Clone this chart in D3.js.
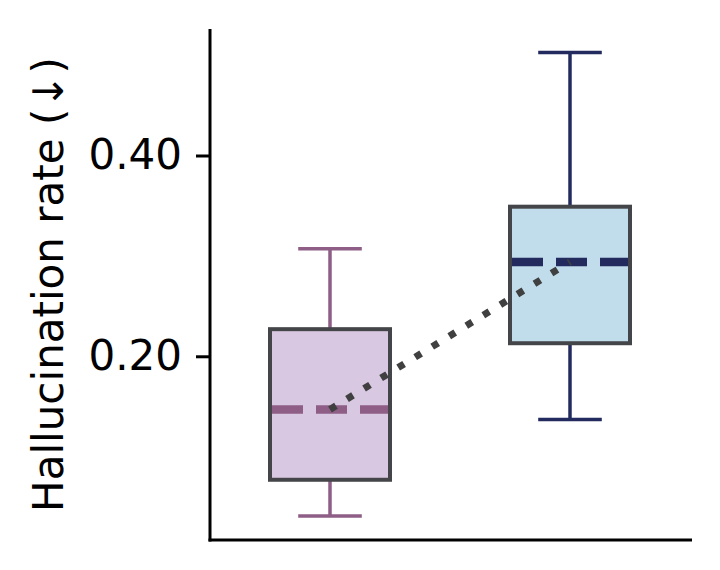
<!DOCTYPE html>
<html>
<head>
<meta charset="utf-8">
<script src="https://cdn.jsdelivr.net/npm/d3@7"></script>
<style>
  body { margin: 0; background: #ffffff; }
  svg { display: block; font-family: "DejaVu Sans", sans-serif; }
</style>
</head>
<body>
<div id="chart"></div>
<script>
// Données
const categories = ["Baseline", "Ours"];
const whiskerLow = [0.041, 0.137];
const q1 = [0.077, 0.213];
const medians = [0.147, 0.294];
const q3 = [0.227, 0.349];
const whiskerHigh = [0.307, 0.5025];
const tickValues = [0.20, 0.40];
const fillColors = ["#d9c8e1", "#c1ddeb"];
const lineColors = ["#8e5e87", "#232b5e"];
const edgeColor = "#444548";

const width = 720, height = 570;
const svg = d3.select('#chart').append('svg')
  .attr('width', width)
  .attr('height', height);

// Echelles
const x = d3.scaleBand()
  .domain(categories)
  .range([210, 690])
  .paddingInner(0.5)
  .paddingOuter(0.25);

const y = d3.scaleLinear()
  .domain([0.017, 0.526])
  .range([540, 29]);

const boxes = categories.map((c, i) => ({
  cat: c, lo: whiskerLow[i], q1: q1[i], med: medians[i], q3: q3[i], hi: whiskerHigh[i],
  fill: fillColors[i], line: lineColors[i]
}));

const bw = x.bandwidth();
const capW = bw * 0.53;

const g = svg.append('g');

// Moustaches
boxes.forEach(d => {
  const cx = x(d.cat) + bw / 2;
  g.append('line')
    .attr('x1', cx).attr('x2', cx)
    .attr('y1', y(d.q3)).attr('y2', y(d.hi))
    .attr('stroke', d.line).attr('stroke-width', 3.5);
  g.append('line')
    .attr('x1', cx).attr('x2', cx)
    .attr('y1', y(d.q1)).attr('y2', y(d.lo))
    .attr('stroke', d.line).attr('stroke-width', 3.5);
  [d.lo, d.hi].forEach(v => {
    g.append('line')
      .attr('x1', cx - capW / 2).attr('x2', cx + capW / 2)
      .attr('y1', y(v)).attr('y2', y(v))
      .attr('stroke', d.line).attr('stroke-width', 3.5);
  });
});

// Boîtes
g.selectAll('rect.box')
  .data(boxes)
  .join('rect')
  .attr('class', 'box')
  .attr('x', d => x(d.cat))
  .attr('y', d => y(d.q3))
  .attr('width', bw)
  .attr('height', d => y(d.q1) - y(d.q3))
  .attr('fill', d => d.fill)
  .attr('stroke', edgeColor)
  .attr('stroke-width', 4);

// Médianes en tirets
g.selectAll('line.median')
  .data(boxes)
  .join('line')
  .attr('class', 'median')
  .attr('x1', d => x(d.cat) + 2)
  .attr('x2', d => x(d.cat) + bw - 2)
  .attr('y1', d => y(d.med))
  .attr('y2', d => y(d.med))
  .attr('stroke', d => d.line)
  .attr('stroke-width', 8.5)
  .attr('stroke-dasharray', '31,13');

// Ligne pointillée reliant les médianes
const medLine = d3.line()
  .x(d => x(d.cat) + bw / 2)
  .y(d => y(d.med));

g.append('path')
  .datum(boxes)
  .attr('d', medLine)
  .attr('fill', 'none')
  .attr('stroke', '#404040')
  .attr('stroke-width', 7)
  .attr('stroke-dasharray', '7,13');

// Axe Y
const yAxis = d3.axisLeft(y)
  .tickValues(tickValues)
  .tickFormat(d3.format('.2f'))
  .tickSize(14)
  .tickPadding(14);

const ax = svg.append('g')
  .attr('transform', 'translate(210,0)')
  .call(yAxis);
ax.select('.domain').remove();
ax.selectAll('.tick line').attr('stroke', '#000').attr('stroke-width', 3);
ax.selectAll('.tick text')
  .attr('fill', '#000')
  .style('font-size', '42px')
  .style('font-family', '"DejaVu Sans", sans-serif');

// Axes (spines)
svg.append('line')
  .attr('x1', 210).attr('x2', 210)
  .attr('y1', 29).attr('y2', 541.5)
  .attr('stroke', '#000').attr('stroke-width', 3);
svg.append('line')
  .attr('x1', 208.5).attr('x2', 692)
  .attr('y1', 540).attr('y2', 540)
  .attr('stroke', '#000').attr('stroke-width', 3);

// Titre de l'axe Y
svg.append('text')
  .attr('transform', `translate(63, ${(29 + 540) / 2}) rotate(-90)`)
  .attr('text-anchor', 'middle')
  .attr('fill', '#000')
  .style('font-size', '42px')
  .text('Hallucination rate (↓)');
</script>
</body>
</html>
